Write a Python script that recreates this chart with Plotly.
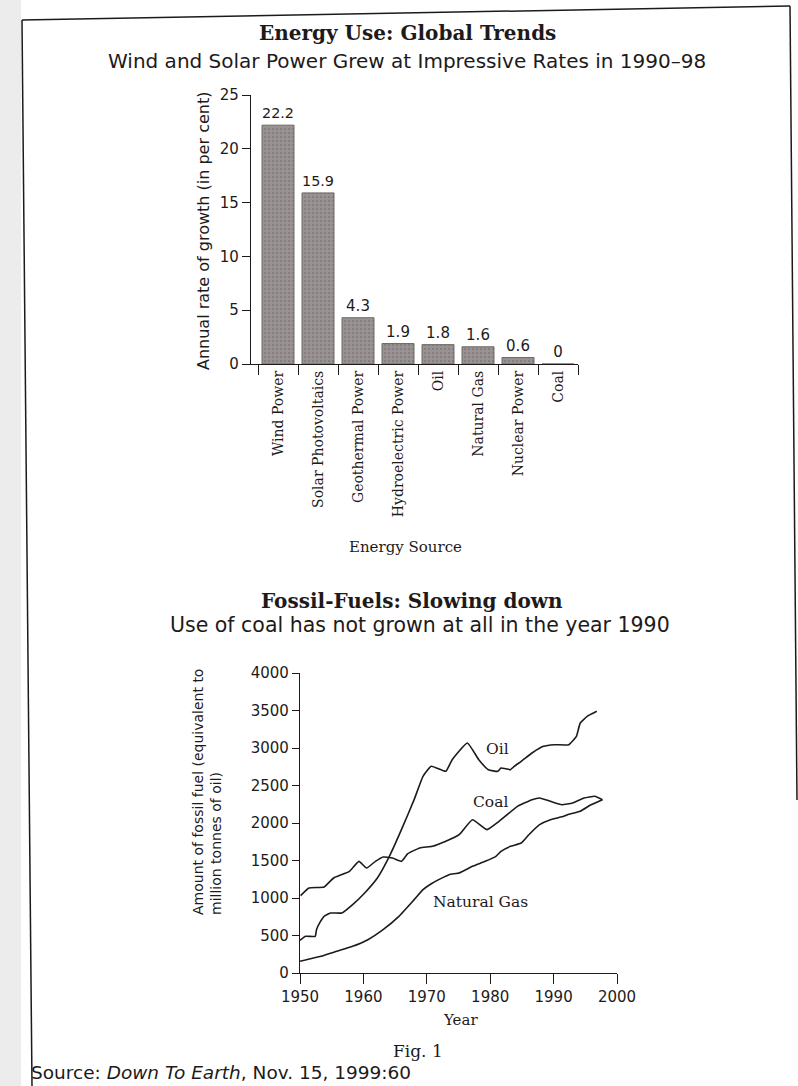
import plotly.graph_objects as go

W, H = 798, 1086

# ---- Bar chart data ----
sources = ["Wind Power", "Solar Photovoltaics", "Geothermal Power", "Hydroelectric Power",
           "Oil", "Natural Gas", "Nuclear Power", "Coal"]
growth = [22.2, 15.9, 4.3, 1.9, 1.8, 1.6, 0.6, 0]
growth_labels = ["22.2", "15.9", "4.3", "1.9", "1.8", "1.6", "0.6", "0"]

# ---- Line chart data (million tonnes of oil equivalent) ----
oil_years = [1950.0, 1950.9, 1952.4, 1952.6, 1953.1, 1953.8, 1954.8, 1956.6, 1958.3, 1960.2,
             1962.2, 1964.1, 1966.0, 1968.0, 1969.4, 1970.7, 1973.0, 1974.0, 1976.4, 1978.2,
             1979.7, 1981.2, 1981.7, 1983.2, 1983.8, 1984.9, 1986.6, 1988.4, 1990.1, 1992.4,
             1993.6, 1994.2, 1995.3, 1996.8]
oil_vals = [436, 489, 489, 578, 667, 756, 800, 800, 911, 1067,
            1267, 1556, 1911, 2311, 2622, 2756, 2689, 2844, 3067, 2844,
            2711, 2689, 2733, 2711, 2756, 2822, 2933, 3022, 3044, 3044,
            3156, 3333, 3422, 3489]

coal_years = [1950.1, 1951.4, 1953.8, 1955.3, 1957.8, 1959.3, 1960.5, 1961.9, 1963.1, 1964.6,
              1966.0, 1967.0, 1968.9, 1970.9, 1973.0, 1975.1, 1977.2, 1979.5, 1981.4, 1984.3,
              1986.6, 1987.8, 1989.5, 1991.3, 1993.0, 1994.8, 1996.5, 1997.7]
coal_vals = [1031, 1133, 1147, 1267, 1356, 1489, 1400, 1489, 1547, 1533,
             1489, 1591, 1667, 1689, 1756, 1844, 2044, 1911, 2022, 2222,
             2311, 2333, 2289, 2244, 2267, 2333, 2356, 2311]

gas_years = [1950.0, 1953.3, 1955.8, 1958.3, 1960.7, 1963.1, 1965.6, 1968.0, 1969.4, 1970.9,
             1973.5, 1975.1, 1977.2, 1979.2, 1980.9, 1981.7, 1983.2, 1984.9, 1986.1, 1987.8,
             1989.5, 1991.6, 1992.2, 1994.2, 1995.9, 1997.7]
gas_vals = [156, 222, 289, 356, 444, 578, 756, 978, 1111, 1200,
            1311, 1333, 1422, 1489, 1556, 1622, 1689, 1733, 1844, 1978,
            2044, 2089, 2111, 2156, 2244, 2311]

year_ticks = [1950, 1960, 1970, 1980, 1990, 2000]
fuel_ticks = [0, 500, 1000, 1500, 2000, 2500, 3000, 3500, 4000]
growth_ticks = [0, 5, 10, 15, 20, 25]

SANS = "DejaVu Sans, Open Sans, sans-serif"
SERIF = "DejaVu Serif, Liberation Serif, serif"
INK = "#1e1a1a"


def px_x(x):
    return x / W


def px_y(y):
    return 1 - y / H


fig = go.Figure()

fig.add_trace(go.Bar(
    x=sources, y=growth, text=growth_labels, textposition="outside",
    textfont=dict(family=SANS, size=15, color=INK),
    marker=dict(color="#8e8787", line=dict(color="#6e6868", width=1),
                pattern=dict(shape=".", fgcolor="#6f6969", bgcolor="#9a9393", size=4, solidity=0.3)),
    cliponaxis=False, xaxis="x", yaxis="y", showlegend=False,
))

for yrs, vals in [(oil_years, oil_vals), (coal_years, coal_vals), (gas_years, gas_vals)]:
    fig.add_trace(go.Scatter(
        x=yrs, y=vals, mode="lines", line=dict(color=INK, width=1.6, shape="spline", smoothing=0.4),
        xaxis="x2", yaxis="y2", showlegend=False,
    ))

axis_common = dict(showline=True, linecolor=INK, linewidth=1.3, ticks="outside", automargin=False,
                   tickcolor=INK, tickwidth=1.3, showgrid=False, zeroline=False)

fig.update_layout(
    width=W, height=H, margin=dict(l=0, r=0, t=0, b=0, pad=0, autoexpand=False),
    paper_bgcolor="white", plot_bgcolor="rgba(0,0,0,0)",
    bargap=0.2, showlegend=False,
    xaxis=dict(domain=[px_x(251), px_x(578)], anchor="y", type="category",
               range=[-0.675, 7.5], tickson="boundaries", tickangle=-90, ticklen=10,
               tickfont=dict(family=SERIF, size=14, color=INK), **axis_common),
    yaxis=dict(domain=[px_y(364), px_y(95)], anchor="x", range=[0, 25], ticklen=8,
               tickvals=growth_ticks, tickfont=dict(family=SANS, size=15, color=INK),
               **axis_common),
    xaxis2=dict(domain=[px_x(300), px_x(617)], anchor="y2", range=[1950, 2000], ticklen=10,
                tickvals=year_ticks, tickfont=dict(family=SANS, size=15, color=INK),
                **axis_common),
    yaxis2=dict(domain=[px_y(973), px_y(673)], anchor="x2", range=[0, 4000], ticklen=7,
                tickvals=fuel_ticks, tickfont=dict(family=SANS, size=15, color=INK),
                **axis_common),
)

ann = []


def add_text(text, x, y, size, family, xanchor="center", yanchor="middle", angle=0, **kw):
    ann.append(dict(text=text, x=px_x(x), y=px_y(y), xref="paper", yref="paper",
                    showarrow=False, xanchor=xanchor, yanchor=yanchor, textangle=angle,
                    font=dict(family=family, size=size, color=INK), **kw))


add_text("<b>Energy Use: Global Trends</b>", 407, 33, 20, SERIF)
add_text("Wind and Solar Power Grew at Impressive Rates in 1990–98", 407, 61, 20, SANS)
add_text("Annual rate of growth (in per cent)", 203, 231, 16, SANS, angle=-90)
add_text("Energy Source", 405, 547, 15, SERIF)

add_text("<b>Fossil-Fuels: Slowing down</b>", 412, 601, 20, SERIF)
add_text("Use of coal has not grown at all in the year 1990", 420, 625, 20.5, SANS)
add_text("Amount of fossil fuel (equivalent to<br>million tonnes of oil)", 207, 792, 14, SANS,
         angle=-90, align="left")
add_text("Year", 460, 1020, 15, SERIF)

# series labels placed in data coordinates
for label, lx, ly in [("Oil", 1981.1, 2990), ("Coal", 1980.0, 2284), ("Natural Gas", 1978.5, 952)]:
    ann.append(dict(text=label, x=lx, y=ly, xref="x2", yref="y2", showarrow=False,
                    xanchor="center", yanchor="middle",
                    font=dict(family=SERIF, size=15.5, color=INK)))

add_text("Fig. 1", 418, 1051, 17, SERIF)
add_text("Source: <i>Down To Earth</i>, Nov. 15, 1999:60", 29, 1072, 18.5, SANS, xanchor="left")

fig.update_layout(annotations=ann)

# page border (photo of a printed box)
shapes = [
    dict(type="rect", xref="paper", yref="paper", x0=0, x1=px_x(21), y0=0, y1=1,
         fillcolor="#ececec", line=dict(width=0), layer="below"),
    dict(type="line", xref="paper", yref="paper", x0=px_x(22), y0=px_y(20), x1=px_x(32), y1=0,
         line=dict(color=INK, width=1.5)),
    dict(type="line", xref="paper", yref="paper", x0=px_x(22), y0=px_y(20), x1=px_x(790), y1=px_y(6),
         line=dict(color=INK, width=1.5)),
    dict(type="line", xref="paper", yref="paper", x0=px_x(790), y0=px_y(6), x1=px_x(797), y1=px_y(800),
         line=dict(color=INK, width=1.5)),
]
fig.update_layout(shapes=shapes)

fig.write_html(
    "out.html",
    config={"displayModeBar": False},
    post_script="document.body.style.margin='0';document.body.style.padding='0';"
                "document.documentElement.style.overflow='hidden';",
)
